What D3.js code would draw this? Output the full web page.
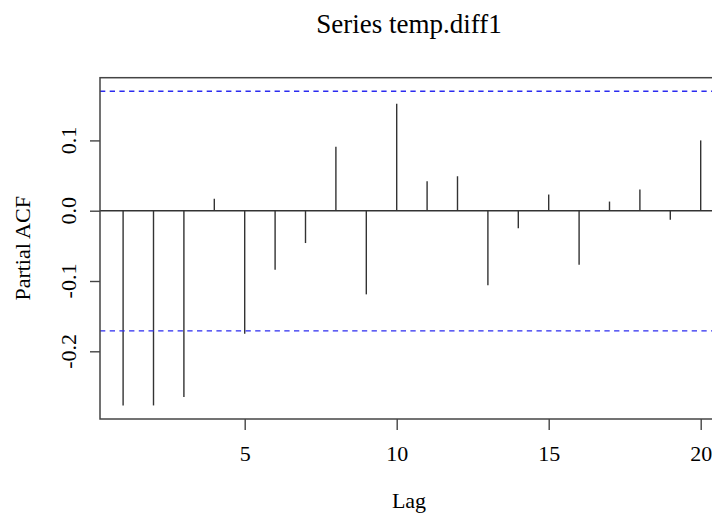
<!DOCTYPE html>
<html>
<head>
<meta charset="utf-8">
<script src="https://cdn.jsdelivr.net/npm/d3@7"></script>
<style>
  html, body { margin: 0; padding: 0; background: #fff; overflow: hidden; }
  svg { display: block; }
  text { font-family: "Liberation Serif", "DejaVu Serif", serif; fill: #000; }
</style>
</head>
<body>
<svg id="chart" width="712" height="514"></svg>
<script>
// ---- data ----
const lags = [1,2,3,4,5,6,7,8,9,10,11,12,13,14,15,16,17,18,19,20];
const pacf = [-0.277,-0.277,-0.265,0.017,-0.175,-0.084,-0.046,0.091,-0.119,0.152,
              0.042,0.049,-0.106,-0.025,0.023,-0.077,0.013,0.030,-0.013,0.100];
const ciUpper = 0.170;
const ciLower = -0.171;
const xTicks = [5,10,15,20];
const yTicks = [0.1, 0.0, -0.1, -0.2];
const yTickLabels = ["0.1","0.0","-0.1","-0.2"];
const title = "Series temp.diff1";
const xLabel = "Lag";
const yLabel = "Partial ACF";

// ---- layout ----
const svg = d3.select("#chart");
const mLeft = 100, mRight = 723.8, mTop = 77.7, mBottom = 419;

const x = d3.scaleLinear().domain([0.24, 20.76]).range([mLeft, mRight]);
const y = d3.scaleLinear().domain([-0.2963, 0.1892]).range([mBottom, mTop]);

const lineCol = "#333";

// zero line
svg.append("line")
  .attr("x1", mLeft).attr("x2", mRight)
  .attr("y1", y(0)).attr("y2", y(0))
  .attr("stroke", lineCol).attr("stroke-width", 1.4);

// spikes
svg.append("g").selectAll("line").data(lags).join("line")
  .attr("x1", d => x(d)).attr("x2", d => x(d))
  .attr("y1", y(0)).attr("y2", (d, i) => y(pacf[i]))
  .attr("stroke", lineCol).attr("stroke-width", 1.4);

// confidence lines
[ciUpper, ciLower].forEach(v => {
  svg.append("line")
    .attr("x1", mLeft).attr("x2", mRight)
    .attr("y1", y(v)).attr("y2", y(v))
    .attr("stroke", "#2b2bf0").attr("stroke-width", 1.4)
    .attr("stroke-dasharray", "5.3,4.4");
});

// box
svg.append("rect")
  .attr("x", mLeft).attr("y", mTop)
  .attr("width", mRight - mLeft).attr("height", mBottom - mTop)
  .attr("fill", "none").attr("stroke", "#444").attr("stroke-width", 1.5);

// x axis
const xAxis = d3.axisBottom(x).tickValues(xTicks).tickSize(11).tickPadding(10)
  .tickFormat(d3.format("d"));
const gx = svg.append("g").attr("transform", `translate(0,${mBottom})`).call(xAxis);
gx.select(".domain").remove();
gx.selectAll(".tick line").attr("stroke", "#444").attr("stroke-width", 1.4);
gx.selectAll(".tick text")
  .attr("font-family", "Liberation Serif").attr("font-size", 22)
  .attr("fill", "#000").attr("dy", null).attr("y", 42);

// y axis ticks
const yAxis = d3.axisLeft(y).tickValues(yTicks).tickSize(10).tickFormat("");
const gy = svg.append("g").attr("transform", `translate(${mLeft},0)`).call(yAxis);
gy.select(".domain").remove();
gy.selectAll(".tick line").attr("stroke", "#444").attr("stroke-width", 1.4);

// y tick labels (rotated like R)
svg.append("g").selectAll("text").data(yTicks).join("text")
  .attr("transform", d => `translate(76,${y(d)}) rotate(-90)`)
  .attr("text-anchor", "middle")
  .attr("font-size", 22)
  .text((d, i) => yTickLabels[i]);

// title
svg.append("text")
  .attr("x", 409).attr("y", 33)
  .attr("text-anchor", "middle")
  .attr("font-size", 27)
  .text(title);

// x label
svg.append("text")
  .attr("x", 409).attr("y", 508)
  .attr("text-anchor", "middle")
  .attr("font-size", 22)
  .text(xLabel);

// y label
svg.append("text")
  .attr("transform", `translate(30,${(mTop + mBottom) / 2}) rotate(-90)`)
  .attr("text-anchor", "middle")
  .attr("font-size", 22)
  .text(yLabel);
</script>
</body>
</html>
